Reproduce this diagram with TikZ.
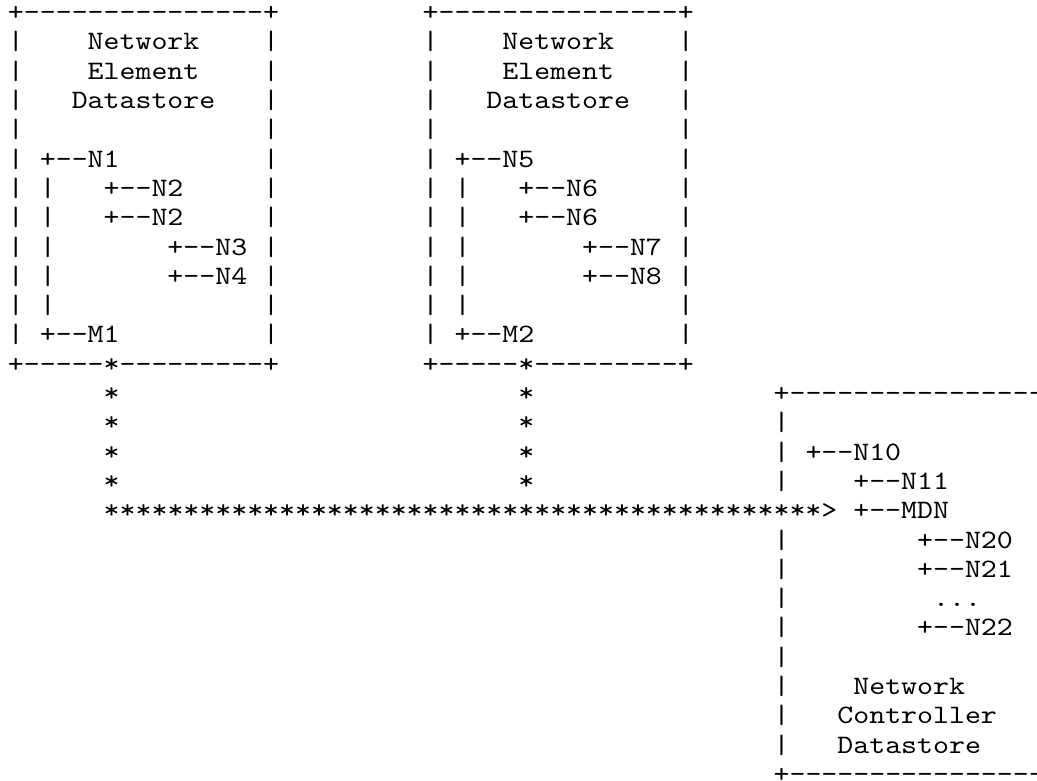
\documentclass[tikz,border=0pt]{standalone}
\usepackage{fontspec}
\newfontfamily\asc{lmmono10-regular.otf}[FakeStretch=1.14214]
\newdimen\cwd \cwd=15.95pt
\newcommand\sk[1]{\kern#1\cwd}
\tikzset{
  row/.style={anchor=base west, inner sep=0pt, outer sep=0pt,
    font={\fontsize{26.6pt}{29.3pt}\asc}, text=black}
}
\newcommand\rowat[4]{\node[row] (#1) at ({8pt+#2*15.95pt},{759.3pt-(#3-1)*29.3pt}) {#4};}
\begin{document}
\begin{tikzpicture}
\fill[white] (0,0) rectangle (1037pt,780pt);
\useasboundingbox (0,0) rectangle (1037pt,780pt);
\rowat{r1}{0}{1}{+---------------+\sk{9}+---------------+}
\rowat{r2}{0}{2}{|\sk{4}Network\sk{4}|\sk{9}|\sk{4}Network\sk{4}|}
\rowat{r3}{0}{3}{|\sk{4}Element\sk{4}|\sk{9}|\sk{4}Element\sk{4}|}
\rowat{r4}{0}{4}{|\sk{3}Datastore\sk{3}|\sk{9}|\sk{3}Datastore\sk{3}|}
\rowat{r5}{0}{5}{|\sk{15}|\sk{9}|\sk{15}|}
\rowat{r6}{0}{6}{|\sk{1}+--N1\sk{9}|\sk{9}|\sk{1}+--N5\sk{9}|}
\rowat{r7}{0}{7}{|\sk{1}|\sk{3}+--N2\sk{5}|\sk{9}|\sk{1}|\sk{3}+--N6\sk{5}|}
\rowat{r8}{0}{8}{|\sk{1}|\sk{3}+--N2\sk{5}|\sk{9}|\sk{1}|\sk{3}+--N6\sk{5}|}
\rowat{r9}{0}{9}{|\sk{1}|\sk{7}+--N3\sk{1}|\sk{9}|\sk{1}|\sk{7}+--N7\sk{1}|}
\rowat{r10}{0}{10}{|\sk{1}|\sk{7}+--N4\sk{1}|\sk{9}|\sk{1}|\sk{7}+--N8\sk{1}|}
\rowat{r11}{0}{11}{|\sk{1}|\sk{13}|\sk{9}|\sk{1}|\sk{13}|}
\rowat{r12}{0}{12}{|\sk{1}+--M1\sk{9}|\sk{9}|\sk{1}+--M2\sk{9}|}
\rowat{r13}{0}{13}{+-----*---------+\sk{9}+-----*---------+}
\rowat{r14}{6}{14}{*\sk{25}*\sk{15}+-----------------}
\rowat{r15}{6}{15}{*\sk{25}*\sk{15}|}
\rowat{r16}{6}{16}{*\sk{25}*\sk{15}|\sk{1}+--N10}
\rowat{r17}{6}{17}{*\sk{25}*\sk{15}|\sk{4}+--N11}
\rowat{r18}{6}{18}{*********************************************>\sk{1}+--MDN}
\rowat{r19}{48}{19}{|\sk{8}+--N20}
\rowat{r20}{48}{20}{|\sk{8}+--N21}
\rowat{r21}{48}{21}{|\sk{9}...}
\rowat{r22}{48}{22}{|\sk{8}+--N22}
\rowat{r23}{48}{23}{|}
\rowat{r24}{48}{24}{|\sk{4}Network}
\rowat{r25}{48}{25}{|\sk{3}Controller}
\rowat{r26}{48}{26}{|\sk{3}Datastore}
\rowat{r27}{48}{27}{+-----------------}
\end{tikzpicture}
\end{document}
